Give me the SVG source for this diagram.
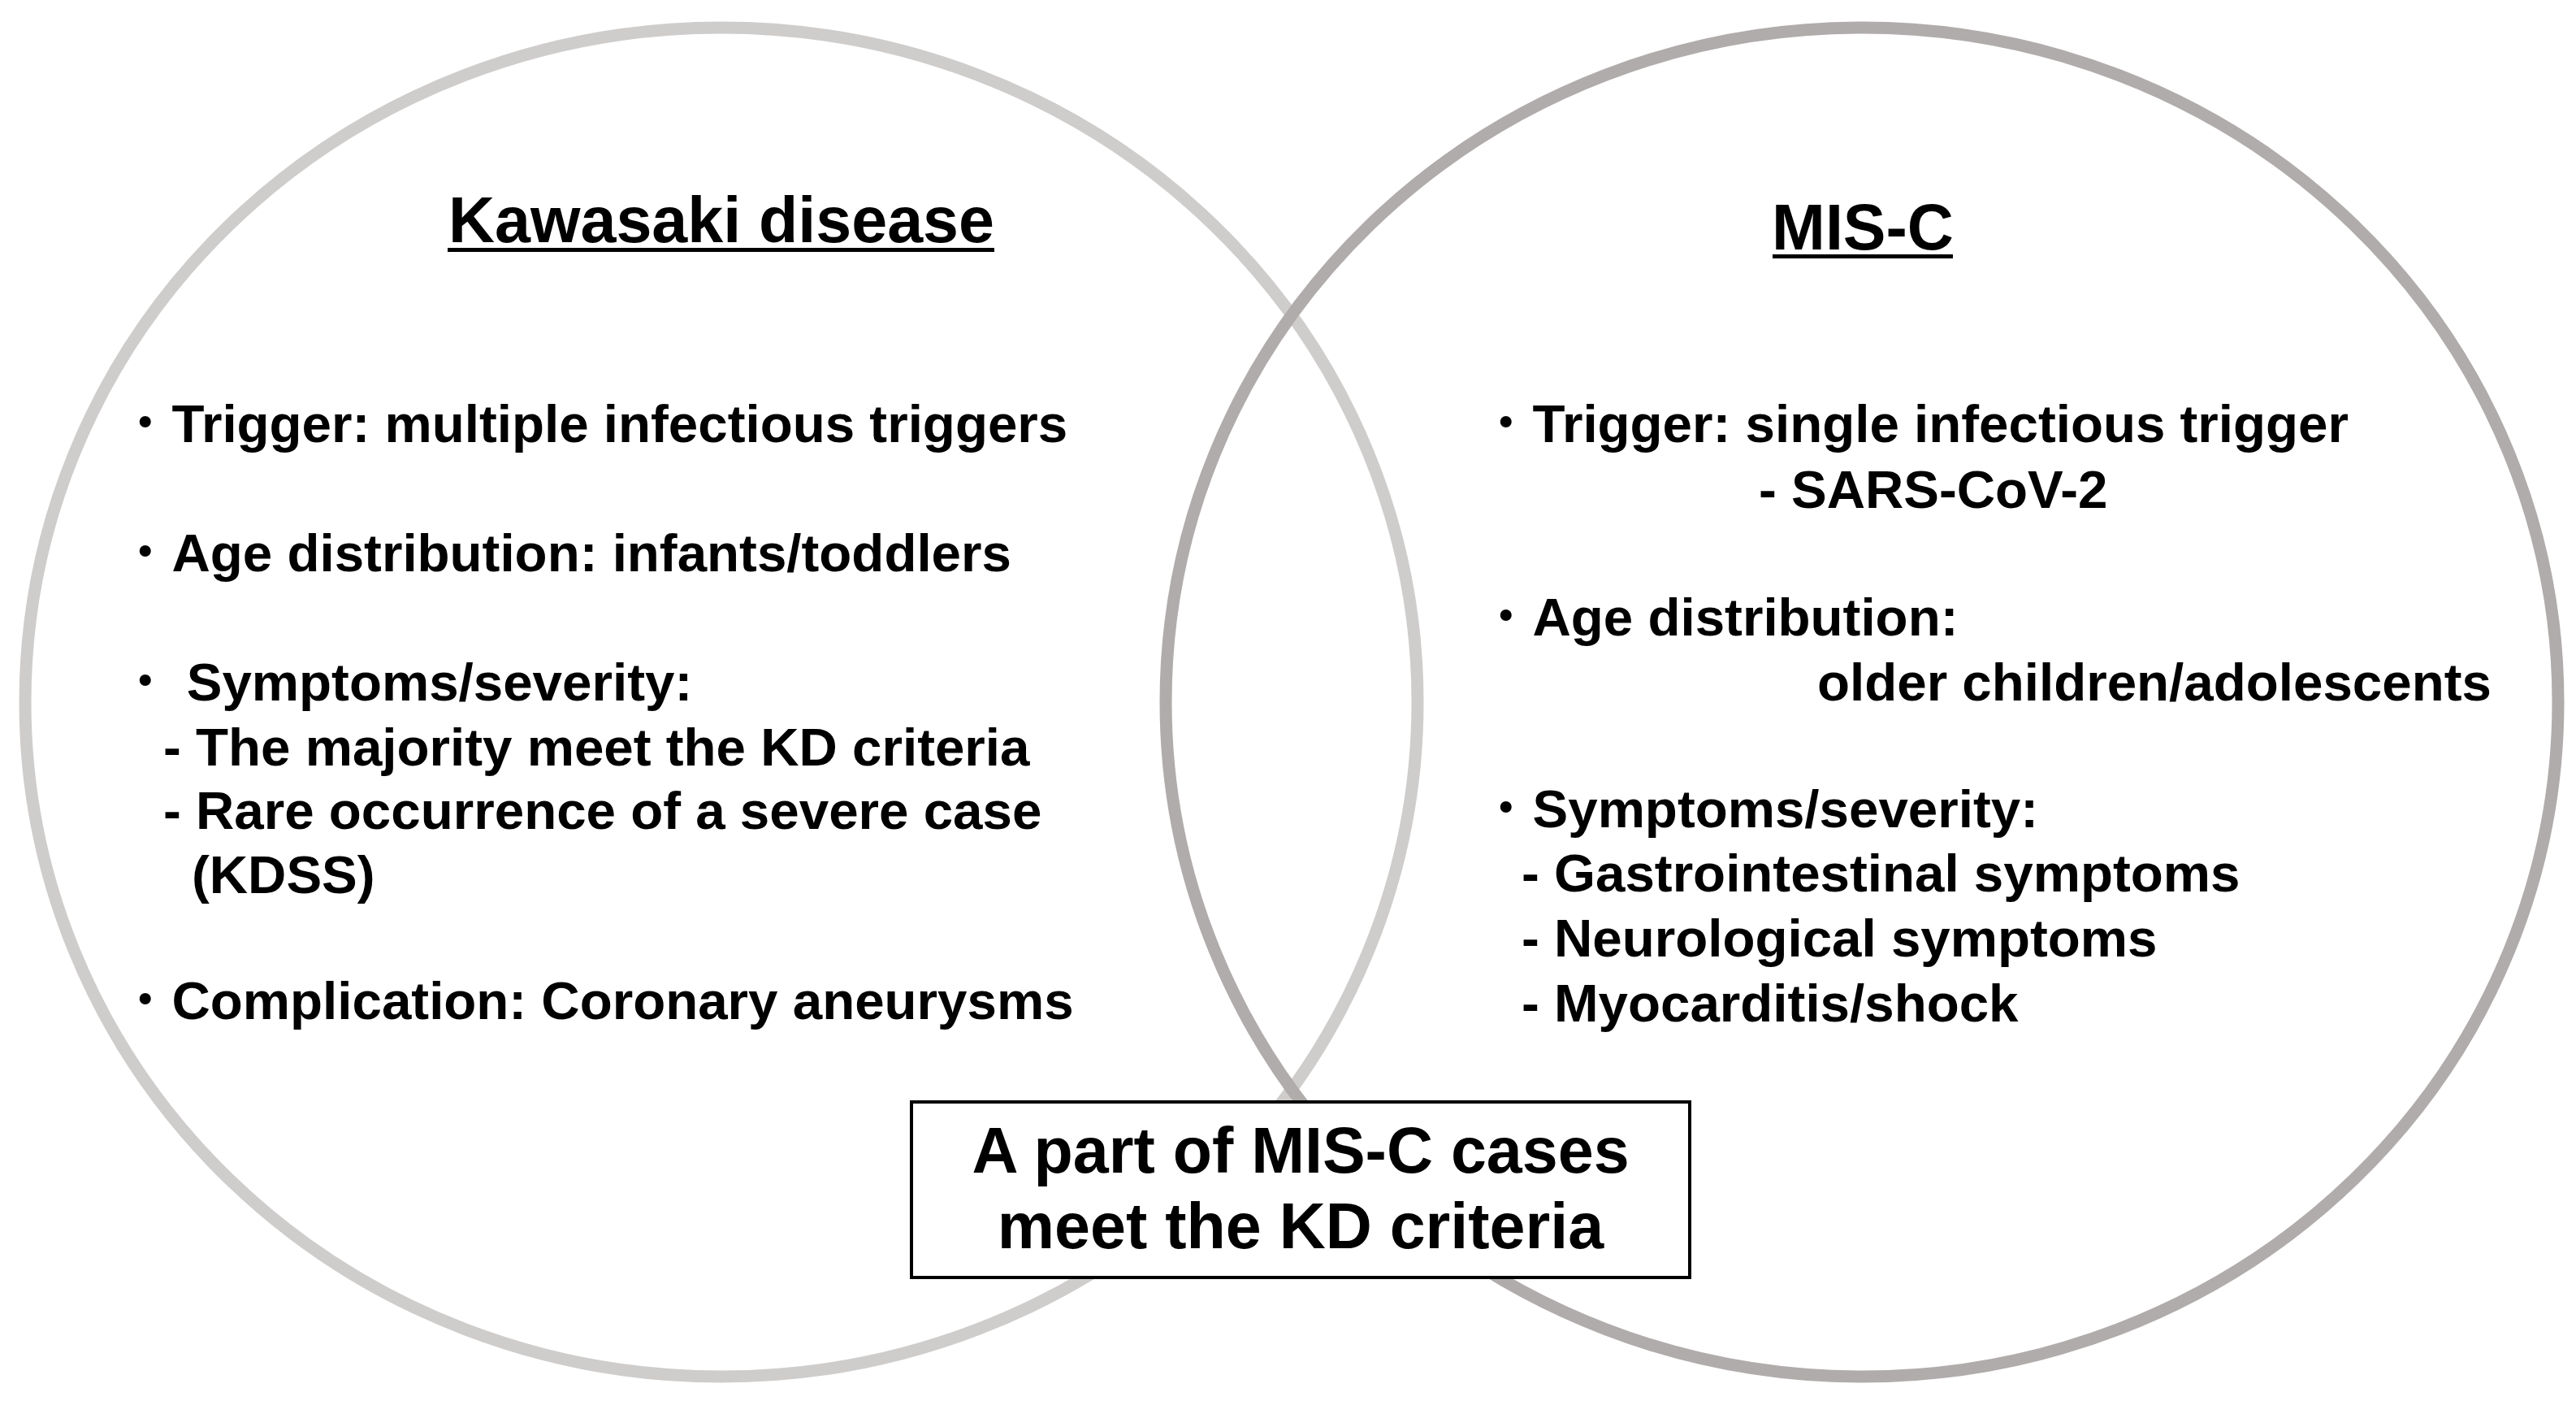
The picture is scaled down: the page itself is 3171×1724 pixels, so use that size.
<svg xmlns="http://www.w3.org/2000/svg" width="3171" height="1724" viewBox="0 0 3171 1724">
  <style>
    .bg { fill: #ffffff; }
    .ring { fill: none; stroke-width: 15; }
    .kd { stroke: #cfcdcc; }
    .mc { stroke: #b0acab; }
    .t { font-family: "Liberation Sans", Arial, "Noto Sans CJK JP", sans-serif; font-weight: bold; fill: #000000; }
    .title { font-size: 79px; }
    .body { font-size: 65.5px; }
    .boxt { font-size: 79px; }
    .b { font-family: "Noto Sans CJK JP", "Liberation Sans", sans-serif; font-weight: normal; }
    .ul { fill: #000000; }
    .box { fill: #ffffff; stroke: #000000; stroke-width: 4; }
  </style>
  <rect class="bg" x="0" y="0" width="3171" height="1724"/>

  <g id="node-kawasaki">
    <ellipse class="ring kd" cx="888" cy="864" rx="857" ry="830"/>
    <text class="t title" x="888" y="298" text-anchor="middle">Kawasaki disease</text>
    <rect class="ul" x="551" y="305" width="673" height="5"/>
    <text class="t body" x="146" y="544"><tspan class="b">・</tspan>Trigger: multiple infectious triggers</text>
    <text class="t body" x="146" y="703"><tspan class="b">・</tspan>Age distribution: infants/toddlers</text>
    <text class="t body" x="146" y="862"><tspan class="b">・</tspan> Symptoms/severity:</text>
    <text class="t body" x="201" y="942">- The majority meet the KD criteria</text>
    <text class="t body" x="201" y="1020">- Rare occurrence of a severe case</text>
    <text class="t body" x="236" y="1099">(KDSS)</text>
    <text class="t body" x="146" y="1254"><tspan class="b">・</tspan>Complication: Coronary aneurysms</text>
  </g>

  <g id="node-misc">
    <ellipse class="ring mc" cx="2292" cy="864" rx="857" ry="830"/>
    <text class="t title" x="2293" y="307" text-anchor="middle">MIS-C</text>
    <rect class="ul" x="2182" y="313" width="222" height="5"/>
    <text class="t body" x="1821" y="544"><tspan class="b">・</tspan>Trigger: single infectious trigger</text>
    <text class="t body" x="2165" y="625">- SARS-CoV-2</text>
    <text class="t body" x="1821" y="782"><tspan class="b">・</tspan>Age distribution:</text>
    <text class="t body" x="2237" y="862">older children/adolescents</text>
    <text class="t body" x="1821" y="1018"><tspan class="b">・</tspan>Symptoms/severity:</text>
    <text class="t body" x="1873" y="1097">- Gastrointestinal symptoms</text>
    <text class="t body" x="1873" y="1177">- Neurological symptoms</text>
    <text class="t body" x="1873" y="1257">- Myocarditis/shock</text>
  </g>

  <g id="node-overlap">
    <rect class="box" x="1122" y="1356" width="958" height="216"/>
    <text class="t boxt" x="1601" y="1443" text-anchor="middle">A part of MIS-C cases</text>
    <text class="t boxt" x="1601" y="1536" text-anchor="middle">meet the KD criteria</text>
  </g>

  <g id="connectors"/>
</svg>
